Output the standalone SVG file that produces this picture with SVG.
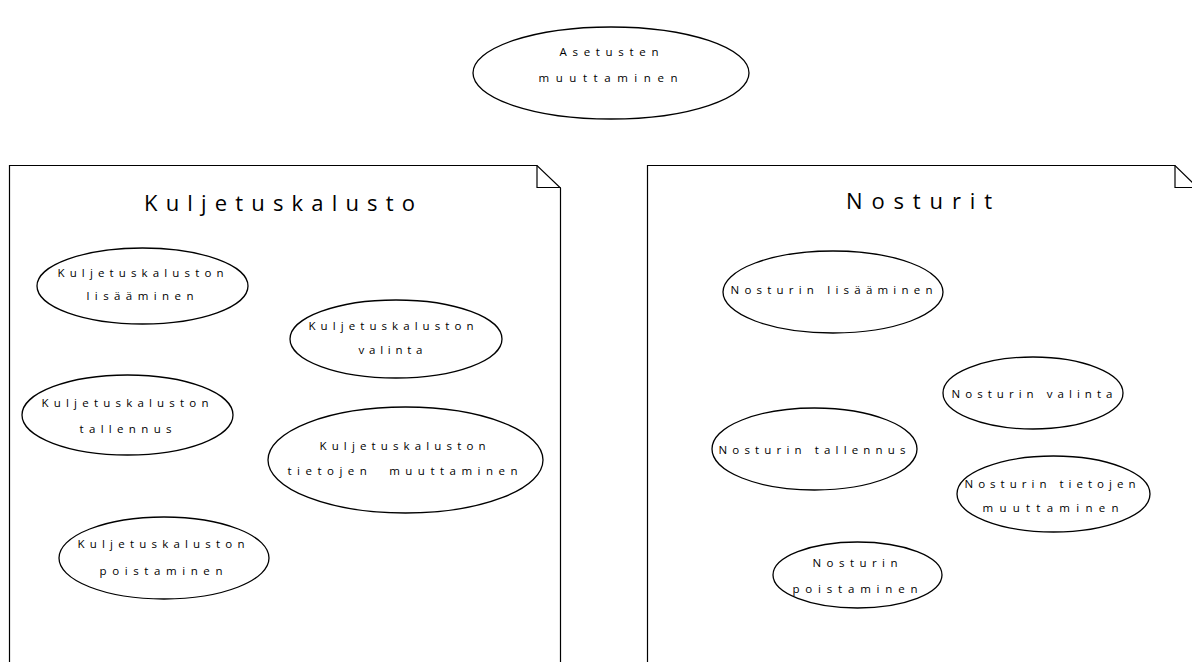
<svg xmlns="http://www.w3.org/2000/svg" width="1192" height="662" viewBox="0 0 1192 662">
  <style>
    .pkg { fill: #fff; stroke: #000; stroke-width: 1.2; }
    .fold { fill: none; stroke: #000; stroke-width: 1.2; }
    .uc { fill: #fff; stroke: #000; stroke-width: 1.3; }
    .t { font-family: "Open Sans", "Liberation Sans", sans-serif; font-size: 11.5px; fill: #000; text-anchor: middle; white-space: pre; }
    .title { font-family: "Open Sans", "Liberation Sans", sans-serif; font-size: 22px; fill: #000; text-anchor: middle; }
  </style>
  <rect width="1192" height="662" fill="#fff"/>

  <!-- package: Kuljetuskalusto -->
  <g id="pkg-kuljetuskalusto">
    <path class="pkg" d="M9.5 670 V165.5 H537 L560.5 188 V670"/>
    <path class="fold" d="M537 165.5 V187.5 H560.5"/>
    <text class="title" x="279.5" y="211" textLength="271" lengthAdjust="spacing">Kuljetuskalusto</text>
  </g>

  <!-- package: Nosturit -->
  <g id="pkg-nosturit">
    <path class="pkg" d="M647.5 670 V165.5 H1175 L1198 188 V670"/>
    <path class="fold" d="M1175 165.5 V187.5 H1198"/>
    <text class="title" x="919" y="209" textLength="146" lengthAdjust="spacing">Nosturit</text>
  </g>

  <g id="uc-asetusten">
    <ellipse class="uc" cx="611" cy="73" rx="138" ry="46"/>
    <text class="t" x="609" y="56" textLength="99" lengthAdjust="spacing">Asetusten</text>
    <text class="t" x="608" y="82" textLength="139" lengthAdjust="spacing">muuttaminen</text>
  </g>

  <g id="uc-k-lisaaminen">
    <ellipse class="uc" cx="142.5" cy="286" rx="105.5" ry="38"/>
    <text class="t" x="140.5" y="277" textLength="166" lengthAdjust="spacing">Kuljetuskaluston</text>
    <text class="t" x="140" y="300" textLength="107" lengthAdjust="spacing">lisääminen</text>
  </g>

  <g id="uc-k-valinta">
    <ellipse class="uc" cx="396" cy="339" rx="106" ry="39"/>
    <text class="t" x="391" y="330" textLength="165" lengthAdjust="spacing">Kuljetuskaluston</text>
    <text class="t" x="390.5" y="354" textLength="64" lengthAdjust="spacing">valinta</text>
  </g>

  <g id="uc-k-tallennus">
    <ellipse class="uc" cx="127.5" cy="415" rx="105.5" ry="40"/>
    <text class="t" x="125" y="407" textLength="167" lengthAdjust="spacing">Kuljetuskaluston</text>
    <text class="t" x="125.5" y="433" textLength="92" lengthAdjust="spacing">tallennus</text>
  </g>

  <g id="uc-k-tietojen">
    <ellipse class="uc" cx="405.5" cy="460" rx="137.5" ry="53"/>
    <text class="t" x="402.5" y="450" textLength="166" lengthAdjust="spacing">Kuljetuskaluston</text>
    <text class="t" x="402.5" y="475" textLength="230" lengthAdjust="spacing">tietojen  muuttaminen</text>
  </g>

  <g id="uc-k-poistaminen">
    <ellipse class="uc" cx="164" cy="558" rx="105" ry="41"/>
    <text class="t" x="161" y="548" textLength="167" lengthAdjust="spacing">Kuljetuskaluston</text>
    <text class="t" x="161" y="574.5" textLength="123" lengthAdjust="spacing">poistaminen</text>
  </g>

  <g id="uc-n-lisaaminen">
    <ellipse class="uc" cx="833" cy="292" rx="110" ry="41"/>
    <text class="t" x="831.5" y="294" textLength="202" lengthAdjust="spacing">Nosturin lisääminen</text>
  </g>

  <g id="uc-n-valinta">
    <ellipse class="uc" cx="1033" cy="393" rx="90" ry="36"/>
    <text class="t" x="1032" y="398" textLength="161" lengthAdjust="spacing">Nosturin valinta</text>
  </g>

  <g id="uc-n-tallennus">
    <ellipse class="uc" cx="814.5" cy="449" rx="102.5" ry="41"/>
    <text class="t" x="812" y="454" textLength="187" lengthAdjust="spacing">Nosturin tallennus</text>
  </g>

  <g id="uc-n-tietojen">
    <ellipse class="uc" cx="1053.5" cy="494" rx="96.5" ry="38"/>
    <text class="t" x="1050" y="488" textLength="171" lengthAdjust="spacing">Nosturin tietojen</text>
    <text class="t" x="1050.5" y="512" textLength="136" lengthAdjust="spacing">muuttaminen</text>
  </g>

  <g id="uc-n-poistaminen">
    <ellipse class="uc" cx="857.5" cy="575" rx="84.5" ry="33"/>
    <text class="t" x="855" y="567" textLength="85" lengthAdjust="spacing">Nosturin</text>
    <text class="t" x="855" y="593" textLength="125" lengthAdjust="spacing">poistaminen</text>
  </g>

  <g id="connectors"></g>
</svg>
